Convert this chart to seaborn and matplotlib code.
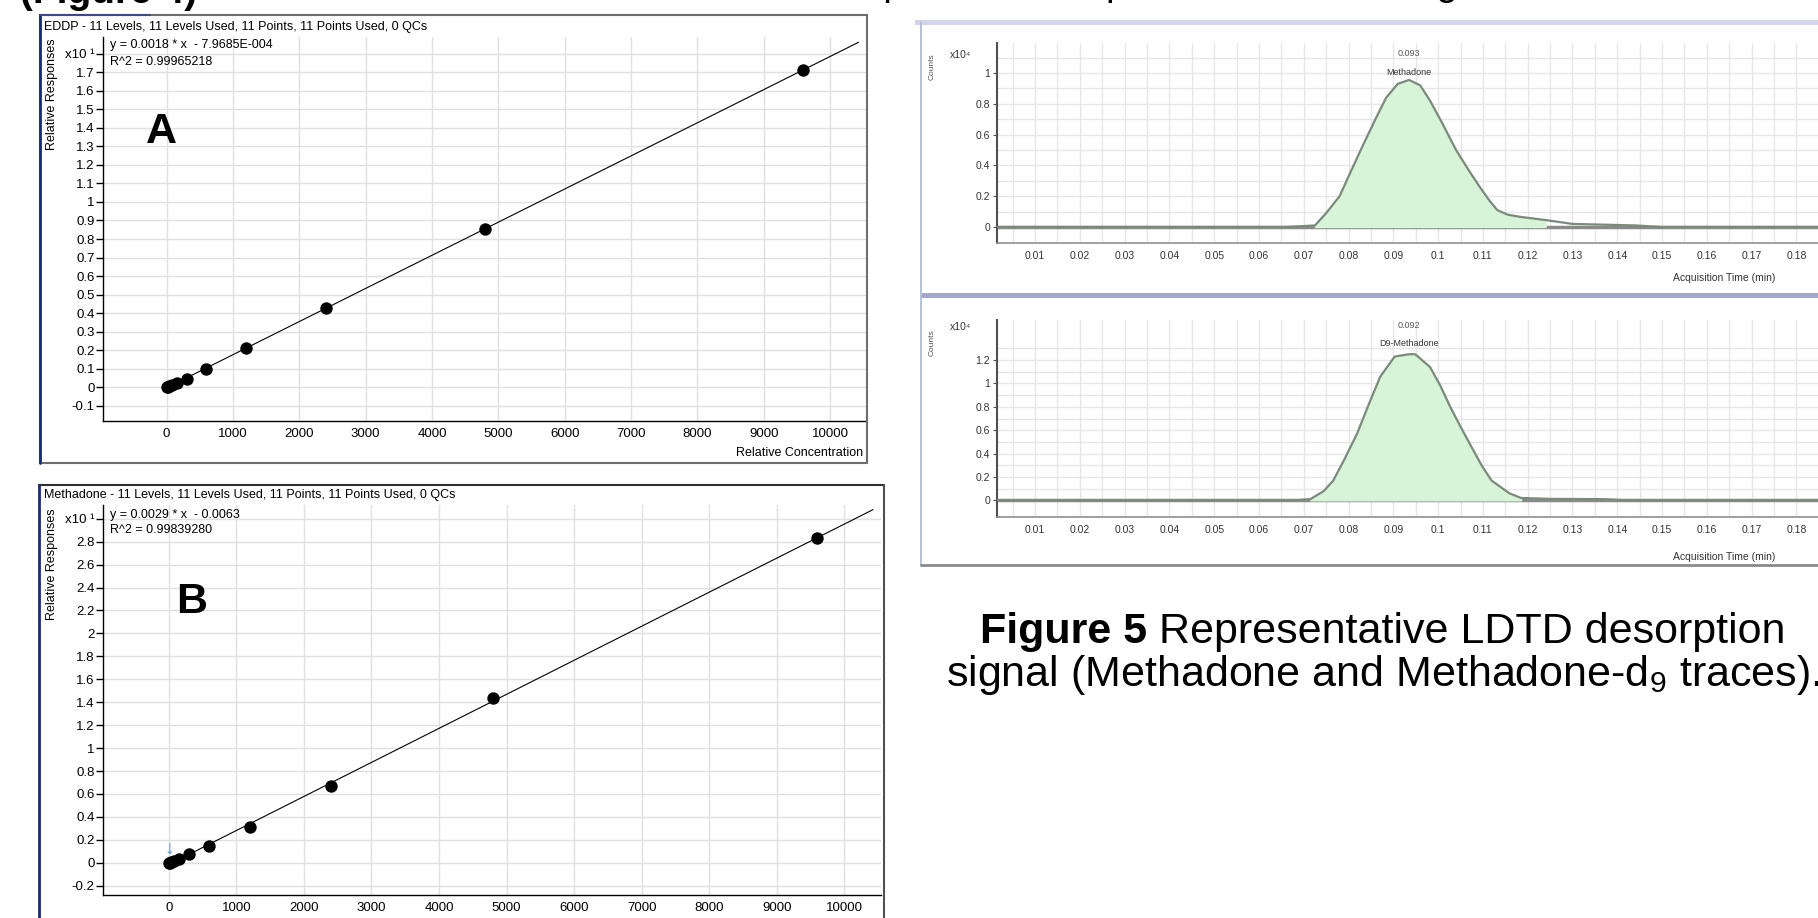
# -*- coding: utf-8 -*-

import numpy as np
import matplotlib
matplotlib.use('Agg')
import matplotlib.pyplot as plt
from matplotlib.patches import Rectangle
from matplotlib.lines import Line2D
import seaborn as sns

# калибровочные кривые (значения по оси Y в единицах x10^1)
conc_a = [0, 18.75, 37.5, 75, 150, 300, 600, 1200, 2400, 4800, 9600]
resp_a = [0.0, 0.003, 0.006, 0.013, 0.025, 0.044, 0.102, 0.215, 0.428, 0.855, 1.712]
conc_b = [0, 18.75, 37.5, 75, 150, 300, 600, 1200, 2400, 4800, 9600]
resp_b = [-0.006, -0.003, 0.005, 0.017, 0.035, 0.073, 0.149, 0.312, 0.672, 1.44, 2.83]
fit_range_a = [0, 10430]
fit_range_b = [0, 10425]

title_a = 'EDDP - 11 Levels, 11 Levels Used, 11 Points, 11 Points Used, 0 QCs'
title_b = 'Methadone - 11 Levels, 11 Levels Used, 11 Points, 11 Points Used, 0 QCs'
eq_a = ['y = 0.0018 * x  - 7.9685E-004', 'R^2 = 0.99965218']
eq_b = ['y = 0.0029 * x  - 0.0063', 'R^2 = 0.99839280']
xticks_conc = [0, 1000, 2000, 3000, 4000, 5000, 6000, 7000, 8000, 9000, 10000]

# хроматограммы (x10^4 counts)
time_top = [0.0015, 0.066, 0.0725, 0.075, 0.078, 0.0805, 0.0832, 0.086, 0.0884, 0.091, 0.0935,
            0.096, 0.0982, 0.101, 0.104, 0.1068, 0.1093, 0.1115, 0.1132, 0.1155, 0.1185, 0.124,
            0.130, 0.144, 0.150, 0.214]
int_top = [0.0, 0.0, 0.01, 0.09, 0.2, 0.36, 0.53, 0.70, 0.84, 0.93, 0.955,
           0.92, 0.82, 0.67, 0.5, 0.37, 0.26, 0.17, 0.11, 0.08, 0.065, 0.045,
           0.02, 0.01, 0.0, 0.0]
time_bot = [0.0015, 0.068, 0.0715, 0.0745, 0.0766, 0.0792, 0.0819, 0.0845, 0.0871, 0.0903, 0.0935,
            0.0949, 0.0982, 0.1005, 0.1027, 0.105, 0.1074, 0.1097, 0.1119, 0.1159, 0.1185, 0.125,
            0.1368, 0.142, 0.214]
int_bot = [0.0, 0.0, 0.01, 0.08, 0.17, 0.36, 0.57, 0.82, 1.06, 1.23, 1.25,
           1.25, 1.14, 0.98, 0.8, 0.63, 0.46, 0.3, 0.17, 0.06, 0.02, 0.012,
           0.01, 0.0, 0.0]
peak_window_top = [0.0725, 0.124]
peak_window_bot = [0.0715, 0.1185]
chrom_xticks = [0.01, 0.02, 0.03, 0.04, 0.05, 0.06, 0.07, 0.08, 0.09, 0.1, 0.11, 0.12,
                0.13, 0.14, 0.15, 0.16, 0.17, 0.18]

W, H = 1818, 918

sns.set_style('white')
plt.rcParams['font.family'] = ['Liberation Sans', 'DejaVu Sans']
plt.rcParams['mathtext.fontset'] = 'custom'
plt.rcParams['mathtext.rm'] = 'Liberation Sans'
plt.rcParams['text.color'] = 'black'
plt.rcParams['xtick.color'] = 'black'
plt.rcParams['ytick.color'] = 'black'

fig = plt.figure(figsize=(W / 100, H / 100), dpi=100)
fig.patch.set_facecolor('white')


def rect(l, t, r, b):
    return [l / W, 1 - b / H, (r - l) / W, (b - t) / H]


def fx(px):
    return px / W


def fy(py):
    return 1 - py / H


def fig_line(x0, y0, x1, y1, **kw):
    fig.add_artist(Line2D([fx(x0), fx(x1)], [fy(y0), fy(y1)], transform=fig.transFigure, **kw))


def fig_box(l, t, r, b, **kw):
    fig.add_artist(Rectangle((fx(l), fy(b)), (r - l) / W, (b - t) / H, transform=fig.transFigure, **kw))


def calib_panel(ax, conc, resp, fit_range, xlim, ylim, yticks, eq, eq_y):
    ax.set_axisbelow(True)
    ax.grid(True, color='#e0e0e0', lw=1)
    sns.scatterplot(x=conc, y=resp, ax=ax, color='black', s=80, linewidth=0, zorder=3)
    k, b = np.polyfit(conc, resp, 1)
    xs = np.array(fit_range, dtype=float)
    sns.lineplot(x=xs, y=k * xs + b, ax=ax, color='black', lw=0.8, zorder=2)
    ax.set_xlim(*xlim)
    ax.set_ylim(*ylim)
    ax.set_xticks(xticks_conc)
    ax.set_xticklabels([str(v) for v in xticks_conc])
    ax.set_yticks(yticks)
    labels = ['{:g}'.format(round(v, 1)) for v in yticks]
    labels[-1] = 'x10 ¹'
    ax.set_yticklabels(labels)
    for s in ['top', 'right']:
        ax.spines[s].set_visible(False)
    for s in ['left', 'bottom']:
        ax.spines[s].set_color('black')
        ax.spines[s].set_linewidth(1)
    ax.tick_params(axis='y', direction='out', length=5, width=1, labelsize=9.5, pad=1, left=True)
    ax.tick_params(axis='x', length=0, labelsize=9.5, pad=5)
    ax.set_xlabel('')
    ax.set_ylabel('')
    ax.text(0.009, eq_y[0], eq[0], transform=ax.transAxes, fontsize=9, va='center')
    ax.text(0.009, eq_y[1], eq[1], transform=ax.transAxes, fontsize=9, va='center')


# ---- панель A
fig_box(40, 15, 867, 463, fill=False, edgecolor='#6e6e6e', lw=1.5)
fig_line(40, 15, 40, 463, color='#1c2a70', lw=2)
fig_line(40, 15, 150, 15, color='#3a4a8a', lw=1.5)
fig.text(fx(44), fy(27), title_a, fontsize=9, va='center')
fig.text(fx(52), fy(38), 'Relative Responses', fontsize=9, rotation=90, va='top', ha='center')
axA = fig.add_axes(rect(103, 37, 866, 421))
yt_a = [round(-0.1 + 0.1 * i, 1) for i in range(20)]
calib_panel(axA, conc_a, resp_a, fit_range_a, (-960, 10543), (-0.181, 1.889), yt_a,
            eq_a, (0.979, 0.935))
fig.text(fx(863), fy(453), 'Relative Concentration', fontsize=9, ha='right', va='center')
fig.text(fx(161), fy(132), 'A', fontsize=31, weight='bold', ha='center', va='center')

# ---- панель B
fig_line(39, 485, 884, 485, color='#303030', lw=1.5)
fig_line(884, 485, 884, 918, color='#505050', lw=1.5)
fig_line(39, 485, 39, 918, color='#1c2a70', lw=2)
fig.text(fx(44), fy(495), title_b, fontsize=9, va='center')
fig.text(fx(52), fy(508), 'Relative Responses', fontsize=9, rotation=90, va='top', ha='center')
axB = fig.add_axes(rect(103, 505, 881, 895))
yt_b = [round(-0.2 + 0.2 * i, 1) for i in range(17)]
calib_panel(axB, conc_b, resp_b, fit_range_b, (-974, 10543), (-0.281, 3.12), yt_b,
            eq_b, (0.974, 0.936))
axB.text(0, 0.12, '↓', color='#4a8ad0', fontsize=14, ha='center', va='center', zorder=4)
fig.text(fx(192), fy(602), 'B', fontsize=31, weight='bold', ha='center', va='center')


# ---- хроматограммы
def chrom_panel(ax, t, y, window, ylim, yticks, peak_labels, label_y):
    ax.set_axisbelow(True)
    ax.set_xlim(0.0015, 0.2143)
    ax.set_ylim(*ylim)
    ax.set_xticks(chrom_xticks)
    ax.set_xticklabels(['{:g}'.format(v) for v in chrom_xticks])
    ax.set_xticks([v - 0.005 for v in chrom_xticks] + [0.185, 0.19, 0.195, 0.2, 0.205, 0.21], minor=True)
    ax.set_yticks(yticks)
    ax.set_yticklabels(['{:g}'.format(round(v, 1)) for v in yticks])
    ax.set_yticks([v + 0.1 for v in yticks], minor=True)
    ax.grid(True, which='both', color='#e6e6e6', lw=1)
    ax.axhline(0, color='#8a8a8a', lw=2.5, zorder=1)
    t = np.array(t)
    y = np.array(y)
    mask = (t >= window[0]) & (t <= window[1])
    ax.fill_between(t[mask], 0, y[mask], color='#d8f4d8', zorder=2)
    sns.lineplot(x=t, y=y, ax=ax, color='#7b8b7b', lw=1.6, zorder=3)
    for s in ['top', 'right']:
        ax.spines[s].set_visible(False)
    ax.spines['left'].set_color('#505050')
    ax.spines['left'].set_linewidth(1.5)
    ax.spines['bottom'].set_color('#909090')
    ax.spines['bottom'].set_linewidth(1.2)
    ax.tick_params(axis='both', which='major', labelsize=7.5, labelcolor='#333333', pad=2)
    ax.tick_params(axis='y', which='major', direction='out', length=3, left=True, color='#505050')
    ax.tick_params(axis='x', which='major', length=0, pad=6)
    ax.tick_params(which='minor', length=0)
    ax.set_xlabel('')
    ax.set_ylabel('')
    pk = t[np.argmax(y)]
    ax.text(pk, label_y[0], peak_labels[0], fontsize=6.5, ha='center', va='center', color='#555555')
    ax.text(pk, label_y[1], peak_labels[1], fontsize=6.5, ha='center', va='center', color='#333333')


fig_box(915, 20, 1830, 25, color='#d3d6ea', lw=0)
fig_line(921, 22, 921, 565, color='#b8c2d6', lw=1.5)
fig_box(921, 293, 1830, 298, color='#a5a7cc', lw=0)
fig_line(921, 565, 1818, 565, color='#8a8a8a', lw=2)

axT = fig.add_axes(rect(997, 43, 1950, 243))
chrom_panel(axT, time_top, int_top, peak_window_top, (-0.104, 1.195),
            [0, 0.2, 0.4, 0.6, 0.8, 1.0], ['0.093', 'Methadone'], (1.13, 1.006))
fig.text(fx(950), fy(55), 'x10⁴', fontsize=7.5, va='center', color='#333333')
fig.text(fx(932), fy(67), 'Counts', fontsize=6, rotation=90, ha='center', va='center', color='#555555')
fig.text(fx(1673), fy(278), 'Acquisition Time (min)', fontsize=7.5, va='center', color='#333333')

axL = fig.add_axes(rect(997, 320, 1950, 517))
chrom_panel(axL, time_bot, int_bot, peak_window_bot, (-0.143, 1.543),
            [0, 0.2, 0.4, 0.6, 0.8, 1.0, 1.2], ['0.092', 'D9-Methadone'], (1.50, 1.345))
fig.text(fx(950), fy(327), 'x10⁴', fontsize=7.5, va='center', color='#333333')
fig.text(fx(932), fy(343), 'Counts', fontsize=6, rotation=90, ha='center', va='center', color='#555555')
fig.text(fx(1673), fy(557), 'Acquisition Time (min)', fontsize=7.5, va='center', color='#333333')

# ---- подпись к рисунку 5 (первая строка центрируется по двум частям)
cap_size = 31
t1 = fig.text(0, fy(643), 'Figure 5', fontsize=cap_size, weight='bold', va='baseline')
t2 = fig.text(0, fy(643), ' Representative LDTD desorption', fontsize=cap_size, va='baseline')
fig.canvas.draw()
w1 = t1.get_window_extent().width
w2 = t2.get_window_extent().width
x_start = 1383 - (w1 + w2) / 2
t1.set_x(fx(x_start))
t2.set_x(fx(x_start + w1))
fig.text(fx(1383), fy(686), 'signal (Methadone and Methadone-d$_{\\mathregular{9}}$ traces).',
         fontsize=cap_size, ha='center', va='baseline')

# ---- обрезанная строка текста сверху (в оригинале видна только нижняя часть)
fig.text(fx(20), fy(3), '(Figure 4)', fontsize=28, weight='bold', va='baseline')
fig.text(fx(250), fy(-5), 'were obtained at all levels and the representative peak is shown in Figure 5',
         fontsize=28, va='baseline')

fig.savefig('out.png', dpi=100)
